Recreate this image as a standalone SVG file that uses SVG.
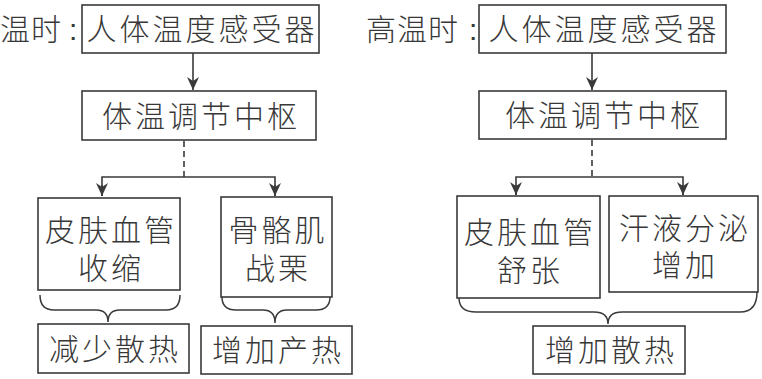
<svg xmlns="http://www.w3.org/2000/svg" width="762" height="379" viewBox="0 0 762 379">
<defs>
<marker id="arrd" markerUnits="userSpaceOnUse" markerWidth="12" markerHeight="14" viewBox="0 0 12 14" refX="6" refY="13" orient="0">
<path d="M0,0 L6,13 L12,0 L6,4 Z" fill="#3a3a3a"/>
</marker>
</defs>
<style>
rect{fill:#fff;stroke:#3a3a3a;stroke-width:1.6}
text{font-family:"Noto Sans CJK SC","Noto Sans",sans-serif;font-size:30px;font-weight:300;fill:#383838;}
.c{text-anchor:middle;letter-spacing:3px}
.lab{letter-spacing:1px}
.ln{fill:none;stroke:#3a3a3a;stroke-width:1.6}
.dash{fill:none;stroke:#3a3a3a;stroke-width:1.6;stroke-dasharray:6 4}
.brace{fill:none;stroke:#3a3a3a;stroke-width:1.5}
</style>
<rect x="0" y="0" width="762" height="379" style="fill:#fff;stroke:none"/>

<g id="connectors">
<line class="ln" x1="193" y1="53" x2="193" y2="90" marker-end="url(#arrd)"/>
<line class="dash" x1="184" y1="141" x2="184" y2="177"/>
<polyline class="ln" points="102,196 102,177 275,177 275,196"/>
<line class="ln" x1="102" y1="185" x2="102" y2="196" marker-end="url(#arrd)"/>
<line class="ln" x1="275" y1="185" x2="275" y2="196" marker-end="url(#arrd)"/>
<path class="brace" d="M40,295 Q40,310 54,310 L96,310 Q108,310 108,322 Q108,310 120,310 L166,310 Q180,310 180,295"/>
<path class="brace" d="M222,297 Q222,310 236,310 L263,310 Q275,310 275,323 Q275,310 287,310 L316,310 Q330,310 330,297"/>

<line class="ln" x1="592" y1="53" x2="592" y2="90" marker-end="url(#arrd)"/>
<line class="dash" x1="592" y1="140" x2="592" y2="177"/>
<polyline class="ln" points="516,195 516,177 683,177 683,195"/>
<line class="ln" x1="516" y1="185" x2="516" y2="195" marker-end="url(#arrd)"/>
<line class="ln" x1="683" y1="185" x2="683" y2="195" marker-end="url(#arrd)"/>
<path class="brace" d="M459,298 Q459,312 476,312 L594,312 Q608,312 608,324 Q608,312 622,312 L740,312 Q757,312 757,292"/>
</g>

<g id="label-low">
<text class="lab" x="0" y="40">温时</text>
<text x="69" y="40" style="font-family:'Liberation Sans',sans-serif">:</text>
</g>
<g id="n1"><rect x="82" y="5" width="237" height="48"/><text class="c" x="202" y="40">人体温度感受器</text></g>
<g id="n2"><rect x="82" y="91" width="234" height="49"/><text class="c" x="201" y="127">体温调节中枢</text></g>
<g id="n3"><rect x="38" y="198" width="142" height="92"/><text class="c"><tspan x="111" y="241">皮肤血管</tspan><tspan x="111" y="279">收缩</tspan></text></g>
<g id="n4"><rect x="221" y="197" width="111" height="100"/><text class="c"><tspan x="278" y="241">骨骼肌</tspan><tspan x="278" y="279">战栗</tspan></text></g>
<g id="n5"><rect x="38" y="324" width="151" height="49"/><text class="c" x="115" y="360">减少散热</text></g>
<g id="n6"><rect x="201" y="326" width="151" height="48"/><text class="c" x="278" y="361">增加产热</text></g>

<g id="label-high">
<text class="lab" x="366" y="40">高温时</text>
<text x="469" y="40" style="font-family:'Liberation Sans',sans-serif">:</text>
</g>
<g id="n7"><rect x="479" y="5" width="247" height="48"/><text class="c" x="604" y="40">人体温度感受器</text></g>
<g id="n8"><rect x="479" y="91" width="247" height="48"/><text class="c" x="604" y="126">体温调节中枢</text></g>
<g id="n9"><rect x="457" y="196" width="143" height="102"/><text class="c"><tspan x="530" y="243">皮肤血管</tspan><tspan x="530" y="281">舒张</tspan></text></g>
<g id="n10"><rect x="609" y="196" width="149" height="96"/><text class="c"><tspan x="685" y="239">汗液分泌</tspan><tspan x="685" y="276">增加</tspan></text></g>
<g id="n11"><rect x="533" y="326" width="152" height="48"/><text class="c" x="611" y="361">增加散热</text></g>
</svg>
